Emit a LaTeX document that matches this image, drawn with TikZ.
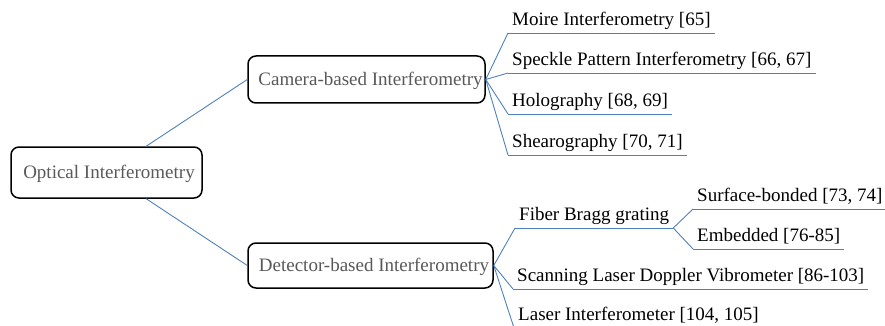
\documentclass[tikz,border=0pt]{standalone}
\usepackage{fontspec}
\setmainfont{Liberation Serif}
\definecolor{branchblue}{RGB}{79,129,189}
\definecolor{boxtext}{RGB}{89,89,89}
\tikzset{
  topicbox/.style={draw=black, line width=1.5pt, rounded corners=8pt, fill=white,
    inner xsep=0pt, inner ysep=0pt, text=boxtext,
    font=\fontsize{19}{22}\selectfont, text height=12.5pt, text depth=0pt},
  leaf/.style={anchor=south west, inner xsep=4pt, inner ysep=0pt,
    font=\fontsize{19}{22}\selectfont, text height=13pt, text depth=7pt},
  underline/.style={draw=branchblue, line width=0.9pt},
  branch/.style={draw=branchblue, line width=0.9pt}
}
\begin{document}
\begin{tikzpicture}[x=1pt, y=-1pt]
\clip (0,0) rectangle (885,326);

% main topics
\node[topicbox, minimum width=191pt, minimum height=51pt] (root) at (106.5,172.5)
  {\hspace*{5pt}Optical Interferometry};
\node[topicbox, minimum width=237pt, minimum height=47pt] (cam) at (366.5,79.5)
  {\hspace*{8pt}Camera-based Interferometry};
\node[topicbox, minimum width=245pt, minimum height=45pt] (det) at (370.5,265.5)
  {\hspace*{7pt}Detector-based Interferometry};

% camera-based methods
\node[leaf] (moire)   at (508,33)  {Moire Interferometry [65]};
\node[leaf] (speckle) at (508,73)  {Speckle Pattern Interferometry [66, 67]};
\node[leaf] (holo)    at (508,114) {Holography [68, 69]};
\node[leaf] (shear)   at (508,155) {Shearography [70, 71]};

% detector-based methods
\node[leaf] (fbg)     at (515,228) {Fiber Bragg grating};
\node[leaf] (surf)    at (693,209) {Surface-bonded [73, 74]};
\node[leaf] (embed)   at (693,249) {Embedded [76-85]};
\node[leaf] (sldv)    at (513,289) {Scanning Laser Doppler Vibrometer [86-103]};
\node[leaf] (laser)   at (514,328) {Laser Interferometer [104, 105]};

% underlines of the leaf topics
\foreach \n in {moire,speckle,holo,shear,fbg,surf,embed,sldv,laser}
  \draw[underline] (\n.south west) -- (\n.south east);

% branches
\draw[branch] (root) -- (cam.west);
\draw[branch] (root) -- (det.west);
\foreach \n in {moire,speckle,holo,shear}
  \draw[branch] (cam.east) -- (\n.south west);
\foreach \n in {fbg,sldv,laser}
  \draw[branch] (det.east) -- (\n.south west);
\foreach \n in {surf,embed}
  \draw[branch] (fbg.south east) -- (\n.south west);
\end{tikzpicture}
\end{document}
